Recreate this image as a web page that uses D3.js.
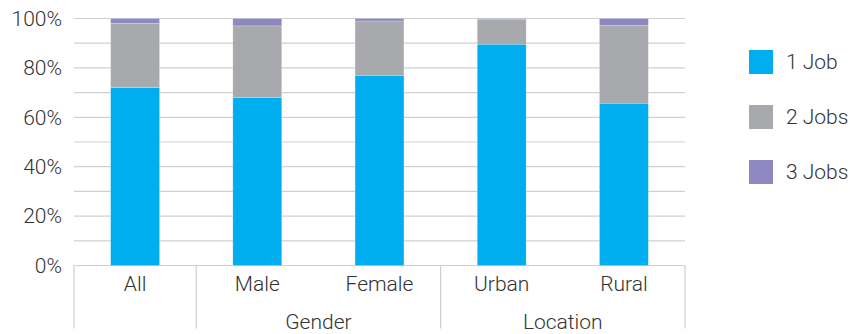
<!DOCTYPE html>
<html>
<head>
<meta charset="utf-8">
<script src="https://cdn.jsdelivr.net/npm/d3@7"></script>
<style>
  html, body { margin: 0; padding: 0; background: #fff; }
  svg { display: block; }
  svg text { font-family: "Roboto", "Liberation Sans", Arial, sans-serif; font-weight: 300; }
</style>
</head>
<body>
<svg id="chart" width="850" height="334"></svg>
<script>
// Share of workers by number of jobs held
const categories = ["All", "Male", "Female", "Urban", "Rural"];
const groups = [
  { name: "", members: ["All"] },
  { name: "Gender", members: ["Male", "Female"] },
  { name: "Location", members: ["Urban", "Rural"] }
];
const seriesNames = ["1 Job", "2 Jobs", "3 Jobs"];
const oneJob   = [72, 68, 77, 89.6, 65.7];
const twoJobs  = [26, 29, 22, 10.1, 31.5];
const threeJobs = [2, 3, 1, 0.3, 2.8];
const yTicks = [0, 20, 40, 60, 80, 100];
const colors = ["#00aeef", "#a7a9ac", "#8e87c0"];

const rows = categories.map((c, i) => ({
  category: c,
  "1 Job": oneJob[i],
  "2 Jobs": twoJobs[i],
  "3 Jobs": threeJobs[i]
}));

const svg = d3.select("#chart");
const margin = { left: 74, right: 165, top: 18.5, bottom: 68.5 };
const W = 850, H = 334;
const plotW = W - margin.left - margin.right;
const plotH = H - margin.top - margin.bottom;
const textColor = "#333333";

const x = d3.scaleBand().domain(categories).range([margin.left, margin.left + plotW]).paddingInner(0.6).paddingOuter(0.3);
const band = d3.scaleBand().domain(categories).range([margin.left, margin.left + plotW]);
const y = d3.scaleLinear().domain([0, 100]).range([margin.top + plotH, margin.top]);
const color = d3.scaleOrdinal().domain(seriesNames).range(colors);

// Gridlines every 10%
svg.append("g")
  .selectAll("line")
  .data(d3.range(0, 101, 10))
  .join("line")
  .attr("x1", margin.left).attr("x2", margin.left + plotW)
  .attr("y1", d => y(d)).attr("y2", d => y(d))
  .attr("stroke", "#d0d0d0").attr("stroke-width", 1.2);

// Y axis labels
const yAxis = d3.axisLeft(y).tickValues(yTicks).tickFormat(d => d + "%").tickSize(0).tickPadding(12);
svg.append("g")
  .attr("transform", `translate(${margin.left},0)`)
  .call(yAxis)
  .call(g => g.select(".domain").remove())
  .call(g => g.selectAll("text")
    .attr("font-size", 21)
    .attr("fill", textColor)
    .attr("font-family", null));

// Stacked bars
const stack = d3.stack().keys(seriesNames)(rows);
svg.append("g")
  .selectAll("g")
  .data(stack)
  .join("g")
  .attr("fill", d => color(d.key))
  .selectAll("rect")
  .data(d => d)
  .join("rect")
  .attr("x", d => x(d.data.category))
  .attr("width", x.bandwidth())
  .attr("y", d => y(d[1]))
  .attr("height", d => y(d[0]) - y(d[1]))
  .attr("stroke", "#ffffff")
  .attr("stroke-opacity", 0.35)
  .attr("stroke-width", 0.6);

// Category labels
const axisY = y(0);
svg.append("g")
  .selectAll("text")
  .data(categories)
  .join("text")
  .attr("x", d => band(d) + band.bandwidth() / 2)
  .attr("y", axisY + 25)
  .attr("text-anchor", "middle")
  .attr("font-size", 21)
  .attr("fill", textColor)
  .text(d => d);

// Group separators and group labels
const sepBottom = 328.5;
const bounds = [];
groups.forEach(g => {
  bounds.push(band(g.members[0]));
  bounds.push(band(g.members[g.members.length - 1]) + band.bandwidth());
});
const separators = Array.from(new Set(bounds.map(v => Math.round(v * 10) / 10)));
svg.append("g")
  .selectAll("line")
  .data(separators)
  .join("line")
  .attr("x1", d => d).attr("x2", d => d)
  .attr("y1", axisY).attr("y2", sepBottom)
  .attr("stroke", "#cfcfcf").attr("stroke-width", 1.2);

svg.append("g")
  .selectAll("text")
  .data(groups.filter(g => g.name))
  .join("text")
  .attr("x", g => (band(g.members[0]) + band(g.members[g.members.length - 1]) + band.bandwidth()) / 2)
  .attr("y", 329)
  .attr("text-anchor", "middle")
  .attr("font-size", 21)
  .attr("fill", textColor)
  .text(g => g.name);

// Legend
const legend = svg.append("g").attr("transform", "translate(749,50)");
const item = legend.selectAll("g")
  .data(seriesNames)
  .join("g")
  .attr("transform", (d, i) => `translate(0,${i * 55})`);
item.append("rect")
  .attr("width", 24).attr("height", 24)
  .attr("fill", d => color(d));
item.append("text")
  .attr("x", 37).attr("y", 12)
  .attr("dy", "0.35em")
  .attr("font-size", 21)
  .attr("fill", textColor)
  .text(d => d);
</script>
</body>
</html>
